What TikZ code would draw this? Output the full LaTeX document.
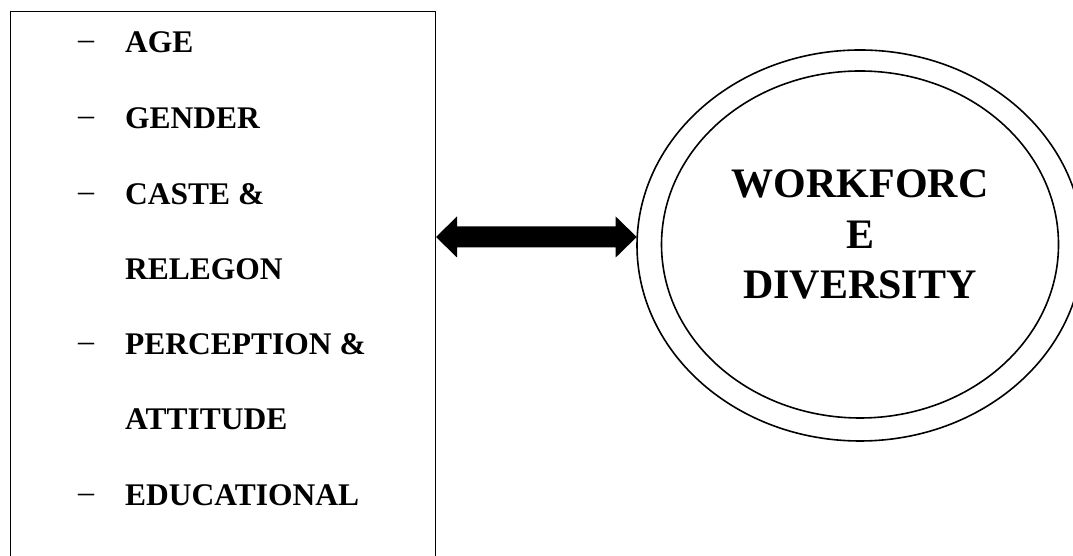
\documentclass[tikz,border=0pt]{standalone}
\usepackage{fontspec}
\setmainfont{Liberation Serif}
\usetikzlibrary{shapes.geometric,calc}
\tikzset{
  itemtext/.style={anchor=base west, inner sep=0pt, font=\fontsize{31.5pt}{36pt}\selectfont\bfseries},
  dashtext/.style={anchor=base west, inner sep=0pt, font=\fontsize{32pt}{36pt}\selectfont},
  ring/.style={ellipse, draw, line width=1.6pt, inner sep=0pt},
}
\begin{document}
\begin{tikzpicture}[x=1pt,y=1pt]
\clip (0,0) rectangle (1073,556);
\fill[white] (0,0) rectangle (1073,556);
% box
\node[draw, line width=1pt, anchor=north west, minimum width=425pt, minimum height=580pt, inner sep=0pt] (box) at (10,545) {};
% items
\foreach \n/\y/\t/\d in {a/503/AGE/1, b/427/GENDER/1, c/351/CASTE \&/1, d/276/RELEGON/0, e/201/PERCEPTION \&/1, f/126/ATTITUDE/0, g/50/EDUCATIONAL/1}{
  \node[itemtext] (item\n) at (125,\y) {\t};
  \ifnum\d=1
    \node[dashtext] (dash\n) at (78,\y) {\raisebox{3pt}{–}};
  \fi
}
% ellipses
\node[ring, minimum width=446pt, minimum height=391pt] (outer) at (860,310.5) {};
\node[ring, minimum width=397pt, minimum height=347pt] (inner) at (860,311.5) {};
\node[anchor=base, align=center, inner sep=0pt, font=\fontsize{42pt}{50.5pt}\selectfont\bfseries] (title) at (860,257) {WORKFORC\\E\\DIVERSITY};
% double arrow connector
\path (box.north east) ++(0,-226) coordinate (aL);
\path (outer.west) ++(0.5,8.5) coordinate (aR);
\fill (aL) -- ++(21,20.5) -- ++(0,-10) -- ($(aR)+(-21,10.5)$) -- ++(0,10) -- (aR)
  -- ++(-21,-20.5) -- ++(0,10) -- ($(aL)+(21,-10.5)$) -- ++(0,-10) -- cycle;
\end{tikzpicture}
\end{document}
